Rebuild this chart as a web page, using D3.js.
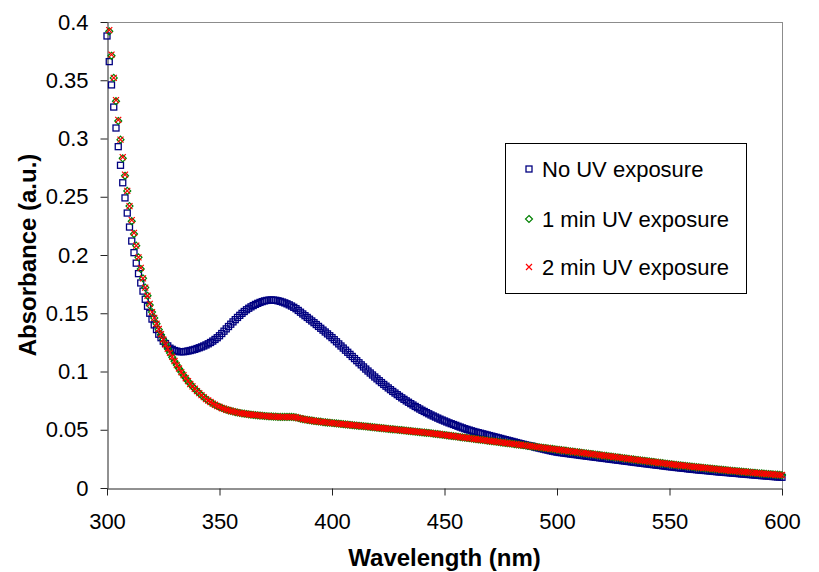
<!DOCTYPE html>
<html>
<head>
<meta charset="utf-8">
<script src="https://cdn.jsdelivr.net/npm/d3@7"></script>
<style>
  html, body { margin: 0; padding: 0; background: #fff; }
  svg { display: block; font-family: "Liberation Sans", Arial, sans-serif; }
</style>
</head>
<body>
<svg id="chart" width="819" height="572"></svg>
<script>
// ---- Data ----
const wavelengthStart = 300;   // nm, 1 nm steps
const wavelengthEnd = 600;
const xTicks = [300, 350, 400, 450, 500, 550, 600];
const yTicks = [0, 0.05, 0.1, 0.15, 0.2, 0.25, 0.3, 0.35, 0.4];
const seriesNames = ["No UV exposure", "1 min UV exposure", "2 min UV exposure"];

const noUV = [
.388,.366,.346,.327,.309,.293,.277,.262,.249,.236,
.224,.212,.202,.193,.184,.176,.169,.162,.156,.150,
.145,.140,.136,.132,.129,.126,.124,.122,.120,.119,
.118,.1175,.117,.117,.117,.1172,.1176,.118,.1185,.119,
.1197,.1204,.1211,.1219,.1228,.1238,.1249,.1261,.1275,.129,
.1307,.1326,.1346,.1366,.1386,.1406,.1426,.1445,.1464,.1482,
.1499,.1515,.153,.1543,.1555,.1566,.1576,.1585,.1593,.16,
.1606,.161,.1613,.1614,.1613,.1611,.1607,.1602,.1596,.1589,
.1581,.1572,.1562,.1551,.1539,.1524,.1509,.1494,.1479,.1464,
.1449,.1434,.1419,.1403,.1387,.1371,.1355,.1339,.1323,.1307,
.1291,.1273,.1255,.1237,.1219,.1201,.1183,.1165,.1147,.1129,
.1111,.1093,.1075,.1057,.1039,.1021,.1004,.0987,.097,.0953,
.0937,.0921,.0905,.0889,.0874,.0859,.0844,.0829,.0815,.0801,
.0787,.0774,.0761,.0748,.0736,.0724,.0712,.07,.0689,.0678,
.0667,.0657,.0647,.0637,.0627,.0618,.0609,.06,.0591,.0583,
.0575,.0567,.0559,.0552,.0545,.0538,.053,.0523,.0516,.0509,
.0503,.0497,.0491,.0485,.048,.0475,.047,.0465,.046,.0455,
.045,.0445,.044,.0435,.043,.0425,.042,.0415,.041,.0405,
.04,.0395,.039,.0385,.038,.0375,.037,.0366,.0362,.0358,
.0352,.0347,.0343,.0338,.0334,.0329,.0325,.032,.0316,.0312,
.0308,.0305,.0303,.03,.0297,.0295,.0292,.029,.0287,.0285,
.0282,.0279,.0277,.0274,.0272,.0269,.0267,.0264,.0262,.0259,
.0257,.0254,.0252,.0249,.0247,.0244,.0242,.0239,.0237,.0234,
.0232,.0229,.0227,.0224,.0222,.0219,.0217,.0214,.0212,.0209,
.0207,.0205,.0202,.02,.0197,.0195,.0193,.019,.0188,.0185,
.0183,.0181,.0179,.0176,.0174,.0172,.017,.0168,.0165,.0163,
.0161,.0159,.0157,.0155,.0153,.0151,.015,.0148,.0146,.0144,
.0142,.014,.0138,.0137,.0135,.0133,.0132,.013,.0128,.0127,
.0125,.0123,.0121,.012,.0118,.0116,.0115,.0113,.0111,.011,
.0108,.0106,.0105,.0103,.0102,.01,.0098,.0097,.0095,.0094,
.0092
];

const uv1min = [
.413,.392,.371,.352,.332,.315,.299,.283,.268,.255,
.242,.229,.218,.208,.198,.188,.180,.172,.165,.157,
.151,.146,.141,.136,.1315,.1275,.1235,.1195,.1158,.1122,
.1088,.1056,.1025,.0996,.0968,.0942,.0917,.0894,.0872,.0851,
.0832,.0814,.0796,.0779,.0764,.075,.0737,.0725,.0714,.0704,
.0695,.0687,.068,.0673,.0667,.0662,.0657,.0652,.0648,.0644,
.0641,.0638,.0635,.0632,.063,.0628,.0626,.0624,.0622,.062,
.0618,.0616,.0615,.0614,.0613,.0612,.0611,.061,.061,.061,
.061,.061,.061,.0609,.0606,.0601,.0596,.0592,.0588,.0585,
.0582,.0579,.0576,.0573,.0571,.0569,.0566,.0564,.0562,.056,
.0558,.0556,.0554,.0552,.055,.0548,.0546,.0544,.0542,.054,
.0538,.0536,.0534,.0532,.053,.0528,.0526,.0524,.0522,.052,
.0518,.0516,.0514,.0512,.051,.0508,.0506,.0504,.0502,.05,
.0498,.0496,.0494,.0492,.049,.0488,.0486,.0484,.0482,.048,
.0478,.0476,.0474,.0472,.047,.0467,.0465,.0462,.046,.0457,
.0455,.0452,.045,.0447,.0445,.0442,.044,.0437,.0435,.0432,
.043,.0427,.0425,.0422,.042,.0417,.0415,.0412,.041,.0407,
.0405,.0402,.04,.0397,.0395,.0392,.039,.0387,.0385,.0382,
.038,.0377,.0375,.0372,.037,.0367,.0365,.0362,.036,.0357,
.0355,.0352,.035,.0347,.0345,.0342,.034,.0337,.0335,.0332,
.033,.0327,.0325,.0322,.032,.0317,.0315,.0312,.031,.0307,
.0305,.0302,.03,.0297,.0295,.0292,.029,.0287,.0285,.0282,
.028,.0277,.0275,.0272,.027,.0267,.0265,.0262,.026,.0257,
.0255,.0252,.025,.0247,.0245,.0242,.024,.0237,.0235,.0232,
.023,.0228,.0225,.0223,.022,.0218,.0215,.0213,.021,.0208,
.0205,.0203,.0201,.0198,.0196,.0194,.0192,.019,.0187,.0185,
.0183,.0181,.0179,.0177,.0175,.0173,.0171,.0169,.0167,.0165,
.0163,.0161,.0159,.0157,.0155,.0153,.0151,.0149,.0147,.0146,
.0144,.0142,.014,.0138,.0137,.0135,.0133,.0131,.013,.0128,
.0126,.0125,.0123,.0121,.012,.0118,.0117,.0115,.0114,.0112,
.0111
];

const uv2min = [
.414,.393,.372,.352,.333,.316,.299,.284,.269,.255,
.242,.23,.219,.208,.198,.189,.18,.172,.165,.158,
.151,.146,.141,.1365,.132,.1275,.1232,.1195,.116,.1125,
.109,.1055,.1026,.0995,.0969,.0942,.0918,.0893,.0872,.0852,
.0831,.0815,.0797,.078,.0763,.0751,.0738,.0724,.0715,.0703,
.0696,.0686,.0681,.0672,.0668,.0661,.0658,.0651,.0649,.0643,
.0642,.0637,.0636,.0631,.0631,.0627,.0627,.0623,.0623,.0619,
.0619,.0615,.0616,.0613,.0614,.0611,.0612,.0609,.0611,.0609,
.0611,.0609,.0611,.0608,.0607,.06,.0597,.0591,.0589,.0584,
.0583,.0578,.0577,.0572,.0572,.0568,.0567,.0563,.0563,.0559,
.0559,.0555,.0555,.0551,.0551,.0547,.0547,.0543,.0543,.0539,
.0539,.0535,.0535,.0531,.0531,.0527,.0527,.0523,.0523,.0519,
.0519,.0515,.0515,.0511,.0511,.0507,.0507,.0503,.0503,.0499,
.0499,.0495,.0495,.0491,.0491,.0487,.0487,.0483,.0483,.0479,
.0479,.0475,.0475,.0471,.0471,.0466,.0466,.0461,.0461,.0456,
.0456,.0451,.0451,.0446,.0446,.0441,.0441,.0436,.0436,.0431,
.0431,.0426,.0426,.0421,.0421,.0416,.0416,.0411,.0411,.0406,
.0406,.0401,.0401,.0396,.0396,.0391,.0391,.0386,.0386,.0381,
.0381,.0376,.0376,.0371,.0371,.0366,.0366,.0361,.0361,.0356,
.0356,.0351,.0351,.0346,.0346,.0341,.0341,.0336,.0336,.0331,
.0331,.0326,.0326,.0321,.0321,.0316,.0316,.0311,.0311,.0306,
.0306,.0301,.0301,.0296,.0296,.0291,.0291,.0286,.0286,.0281,
.0281,.0276,.0276,.0271,.0271,.0266,.0266,.0261,.0261,.0256,
.0256,.0251,.0251,.0246,.0246,.0241,.0241,.0236,.0236,.0231,
.0231,.0227,.0226,.0222,.0221,.0217,.0216,.0212,.0211,.0207,
.0206,.0202,.0202,.0197,.0197,.0193,.0193,.0189,.0188,.0184,
.0184,.018,.018,.0176,.0176,.0172,.0172,.0168,.0168,.0164,
.0164,.016,.016,.0156,.0156,.0152,.0152,.0148,.0148,.0145,
.0145,.0141,.0141,.0137,.0138,.0134,.0134,.013,.0131,.0127,
.0127,.0124,.0124,.012,.0121,.0117,.0118,.0114,.0115,.0111,
.0112
];

// ---- Layout ----
const svg = d3.select("#chart");
const plotLeft = 107, plotRight = 782, plotTop = 22, plotBottom = 488;
const fontFam = '"Liberation Sans", Arial, sans-serif';

const x = d3.scaleLinear().domain([wavelengthStart, wavelengthEnd]).range([plotLeft, plotRight]);
const y = d3.scaleLinear().domain([0, 0.4]).range([plotBottom, plotTop]);

const toPoints = arr => arr.map((v, i) => ({ w: wavelengthStart + i, v }))
                            .filter(d => d.v <= 0.4 && d.v >= 0);

// plot frame: grey top & right
svg.append("line").attr("x1", plotLeft).attr("x2", plotRight).attr("y1", plotTop + 0.5).attr("y2", plotTop + 0.5)
  .attr("stroke", "#8c8c8c");
svg.append("line").attr("x1", plotRight + 0.5).attr("x2", plotRight + 0.5).attr("y1", plotTop).attr("y2", plotBottom)
  .attr("stroke", "#8c8c8c");

// axes
const fmt = d => String(+d.toFixed(2));
const yAxis = svg.append("g").attr("transform", `translate(${plotLeft + 0.5},0)`)
  .call(d3.axisLeft(y).tickValues(yTicks).tickFormat(fmt).tickSize(7).tickSizeOuter(0).tickPadding(12));
const xAxis = svg.append("g").attr("transform", `translate(0,${plotBottom + 0.5})`)
  .call(d3.axisBottom(x).tickValues(xTicks).tickFormat(d3.format("d")).tickSize(7).tickSizeOuter(0).tickPadding(18));
[yAxis, xAxis].forEach(g => {
  g.select(".domain").attr("stroke", "#222");
  g.selectAll(".tick line").attr("stroke", "#222");
  g.selectAll("text").attr("font-family", fontFam).attr("font-size", 22).attr("fill", "#000");
});

// axis titles
svg.append("text").attr("x", (plotLeft + plotRight) / 2).attr("y", 566)
  .attr("text-anchor", "middle").attr("font-family", fontFam).attr("font-weight", "bold")
  .attr("font-size", 24).text("Wavelength (nm)");
svg.append("text").attr("transform", `translate(36,${(plotTop + plotBottom) / 2}) rotate(-90)`)
  .attr("text-anchor", "middle").attr("font-family", fontFam).attr("font-weight", "bold")
  .attr("font-size", 24).text("Absorbance (a.u.)");

// marker drawers
const blueCol = "#000080", greenCol = "#008000", redCol = "#ff0000";
function square(g, cx, cy) {
  g.append("rect").attr("x", cx - 3).attr("y", cy - 3).attr("width", 6).attr("height", 6)
    .attr("fill", "none").attr("stroke", blueCol).attr("stroke-width", 1.3);
}
function diamond(g, cx, cy) {
  g.append("path").attr("d", `M${cx},${cy - 3.5}L${cx + 3.5},${cy}L${cx},${cy + 3.5}L${cx - 3.5},${cy}Z`)
    .attr("fill", "none").attr("stroke", greenCol).attr("stroke-width", 1.2);
}
function cross(g, cx, cy) {
  g.append("path").attr("d", `M${cx - 3},${cy - 3}L${cx + 3},${cy + 3}M${cx + 3},${cy - 3}L${cx - 3},${cy + 3}`)
    .attr("fill", "none").attr("stroke", redCol).attr("stroke-width", 1.2);
}

const gBlue = svg.append("g");
toPoints(noUV).forEach(d => square(gBlue, x(d.w), y(d.v)));
const gGreen = svg.append("g");
toPoints(uv1min).forEach(d => diamond(gGreen, x(d.w), y(d.v)));
const gRed = svg.append("g");
toPoints(uv2min).forEach(d => cross(gRed, x(d.w), y(d.v)));

// legend
const lg = svg.append("g");
lg.append("rect").attr("x", 505.5).attr("y", 143.5).attr("width", 241).attr("height", 150)
  .attr("fill", "#fff").attr("stroke", "#000").attr("stroke-width", 1);
const rowY = [169, 219, 267];
const drawers = [square, diamond, cross];
seriesNames.forEach((name, i) => {
  drawers[i](lg, 529, rowY[i]);
  lg.append("text").attr("x", 542).attr("y", rowY[i] + 8)
    .attr("font-family", fontFam).attr("font-size", 22).attr("fill", "#000").text(name);
});
</script>
</body>
</html>
